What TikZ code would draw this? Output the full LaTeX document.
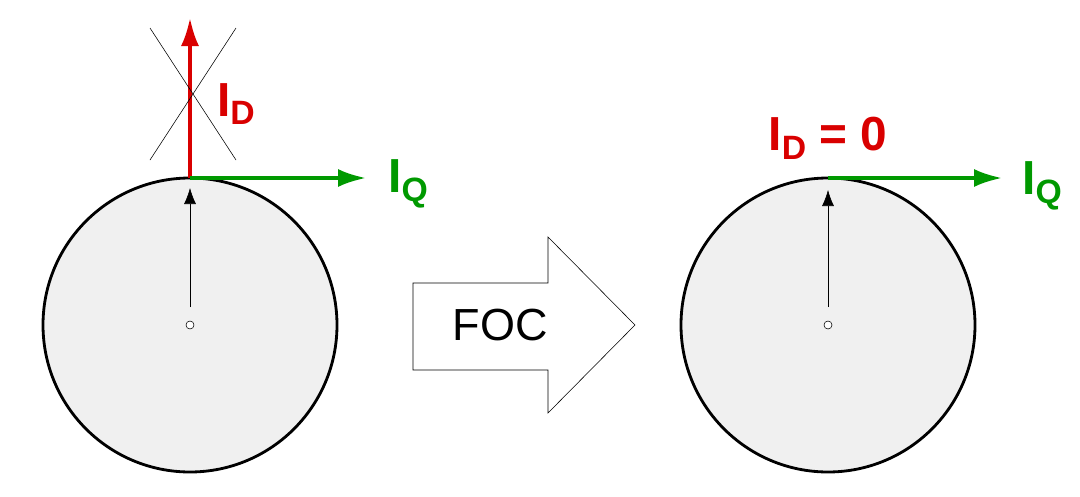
\documentclass[tikz,border=0pt]{standalone}
\usepackage{fontspec}
\setmainfont{Liberation Sans}
\usetikzlibrary{arrows.meta}

\begin{document}
\begin{tikzpicture}[x=0.25mm,y=-0.25mm]
		\tikzset{Disc/.style = {circle, draw, line width=2pt, fill=black!6, minimum size=73.5mm, inner sep=0pt}}
		\tikzset{Hub/.style = {circle, draw, thin, fill=white, minimum size=2mm, inner sep=0pt}}
		\tikzset{Rotor/.style = {-{Latex[length=4mm,width=3mm]}, thin}}
		\tikzset{Dcur/.style = {-{Latex[length=7mm,width=4.5mm]}, line width=2.4pt, red!85!black}}
		\tikzset{Qcur/.style = {-{Latex[length=7mm,width=4.5mm]}, line width=2.4pt, green!60!black}}
		\tikzset{Lab/.style = {font=\bfseries\fontsize{34}{36}\selectfont}}
		\useasboundingbox (0,0) rectangle (1080,496);

		% left rotor
		\node (c1) at (190,325) [Disc] {};
		\node (h1) at (190,325) [Hub] {};
		\coordinate (t1) at (190,178);
		\coordinate (d1) at (190,18);
		\coordinate (q1) at (366,178);
		\draw [Rotor] (190,307) -- (190,188);
		\draw [Dcur] (t1) -- (d1);
		\draw [Qcur] (t1) -- (q1);
		\draw [thin] (150,160) -- (236,28);
		\draw [thin] (150,28) -- (236,160);
		\node (ld1) at (236,104) [Lab, red!85!black] {I\raisebox{-0.35ex}{\fontsize{24}{26}\selectfont D}};
		\node (lq1) at (408,184) [Lab, green!60!black] {I\raisebox{-0.35ex}{\fontsize{24}{26}\selectfont Q}};

		% arrow between
		\draw [thin, fill=white] (413,283) -- (548,283) -- (548,237) -- (635,325) -- (548,413) -- (548,370) -- (413,370) -- cycle;
		\node (foc) at (500,325) [font=\fontsize{32}{34}\selectfont] {FOC};

		% right rotor
		\node (c2) at (828,325) [Disc] {};
		\node (h2) at (828,325) [Hub] {};
		\coordinate (t2) at (828,178);
		\coordinate (q2) at (1002,178);
		\draw [Rotor] (828,307) -- (828,190);
		\draw [Qcur] (t2) -- (q2);
		\node (ld2) at (828,138) [Lab, red!85!black] {I\raisebox{-0.35ex}{\fontsize{24}{26}\selectfont D} = 0};
		\node (lq2) at (1042,186) [Lab, green!60!black] {I\raisebox{-0.35ex}{\fontsize{24}{26}\selectfont Q}};
\end{tikzpicture}
\end{document}
